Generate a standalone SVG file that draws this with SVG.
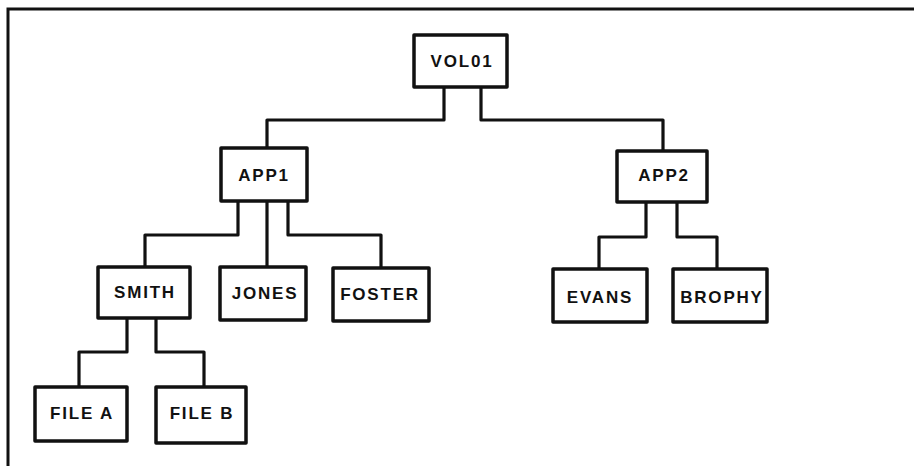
<svg xmlns="http://www.w3.org/2000/svg" width="914" height="466" viewBox="0 0 914 466">
<style>
.box{fill:#fff;stroke:#111;stroke-width:3.5;stroke-linejoin:round}
.lbl{font-family:"Liberation Sans",Arial,sans-serif;font-weight:bold;font-size:17px;letter-spacing:1.8px;fill:#111;text-anchor:middle}
.con{fill:none;stroke:#111;stroke-width:3.2;stroke-linejoin:round}
.frame{fill:none;stroke:#111;stroke-width:3}
</style>
<rect width="914" height="466" fill="#fff"/>
<g id="frame"><path class="frame" d="M8 466 V9 H914"/></g>
<g id="connectors">
<path class="con" d="M444 87 V120 H267 V148"/>
<path class="con" d="M481 87 V120 H663 V151"/>
<path class="con" d="M238 201 V235 H145 V267"/>
<path class="con" d="M267 201 V267"/>
<path class="con" d="M288 201 V235 H381 V268"/>
<path class="con" d="M646 202 V237 H599 V269"/>
<path class="con" d="M677 202 V237 H717 V269"/>
<path class="con" d="M127 318 V352 H79 V387"/>
<path class="con" d="M156 318 V352 H204 V387"/>
</g>
<g id="vol01"><rect class="box" x="414" y="35" width="93" height="52"/><text class="lbl" x="462" y="67">VOL01</text></g>
<g id="app1"><rect class="box" x="221" y="148" width="86" height="53"/><text class="lbl" x="264" y="181">APP1</text></g>
<g id="app2"><rect class="box" x="617" y="151" width="90" height="51"/><text class="lbl" x="664" y="181">APP2</text></g>
<g id="smith"><rect class="box" x="98" y="267" width="92" height="51"/><text class="lbl" x="145" y="298">SMITH</text></g>
<g id="jones"><rect class="box" x="220" y="267" width="86" height="53"/><text class="lbl" x="265" y="299">JONES</text></g>
<g id="foster"><rect class="box" x="333" y="268" width="96" height="53"/><text class="lbl" x="380" y="300">FOSTER</text></g>
<g id="evans"><rect class="box" x="553" y="269" width="94" height="53"/><text class="lbl" x="600" y="303">EVANS</text></g>
<g id="brophy"><rect class="box" x="673" y="269" width="94" height="53"/><text class="lbl" x="722" y="303">BROPHY</text></g>
<g id="filea"><rect class="box" x="35" y="387" width="92" height="54"/><text class="lbl" x="82" y="419">FILE A</text></g>
<g id="fileb"><rect class="box" x="156" y="387" width="90" height="56"/><text class="lbl" x="202" y="419">FILE B</text></g>
</svg>
